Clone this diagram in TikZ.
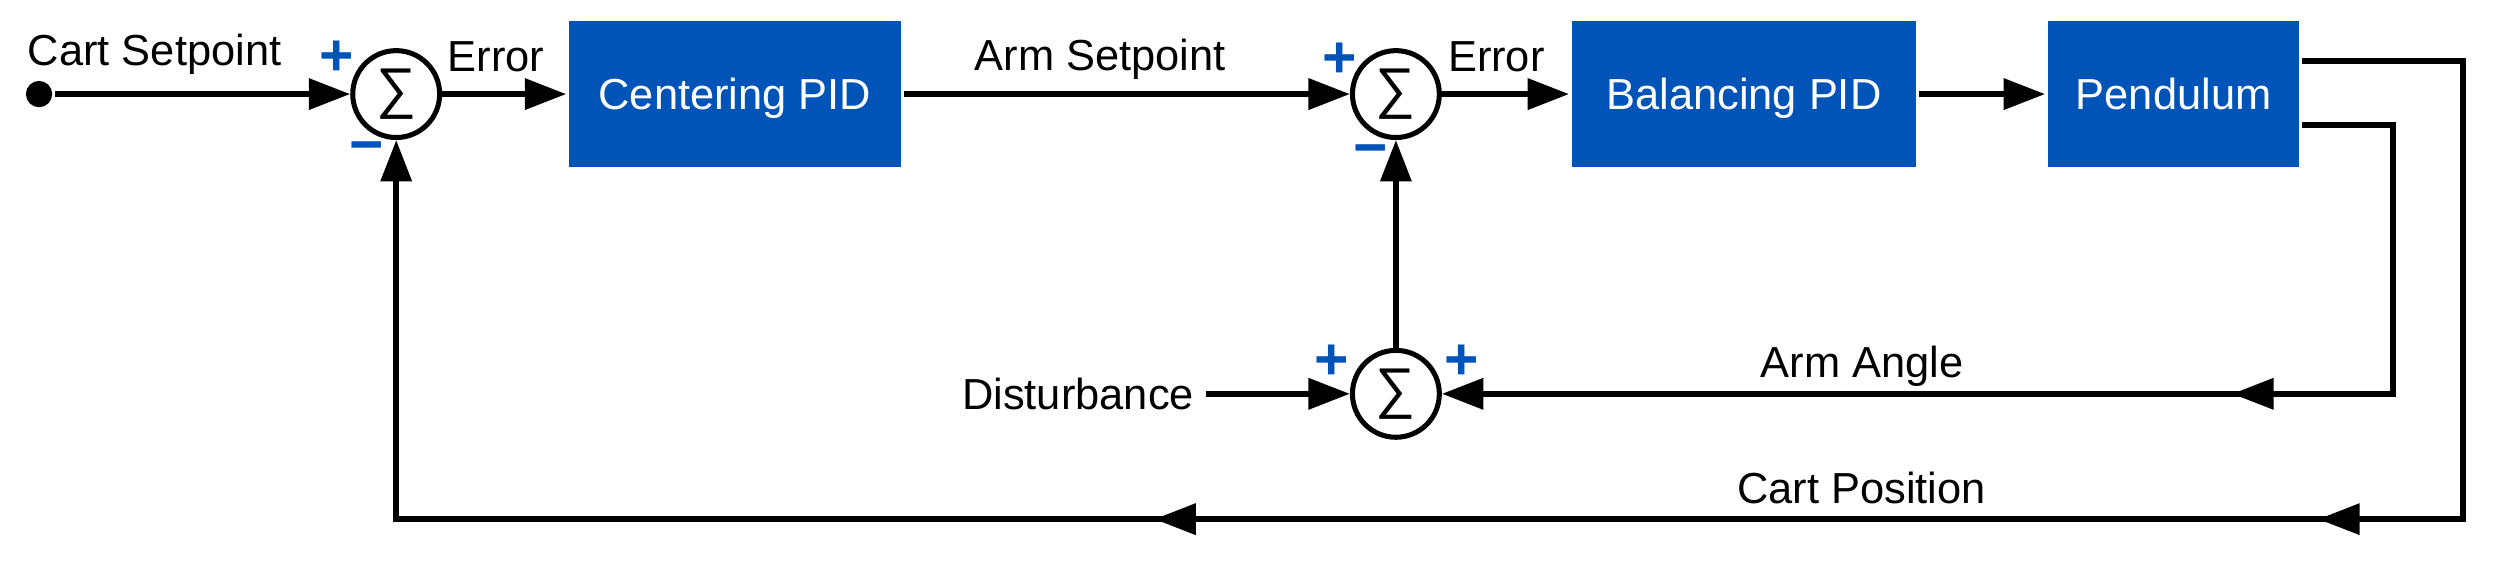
\documentclass[tikz,border=0pt]{standalone}
\usepackage{fontspec}
\setmainfont{Liberation Sans}
\usepackage{tikz}
\usetikzlibrary{arrows.meta,positioning}
\definecolor{ctrlblue}{RGB}{0,84,183}

\begin{document}
\begin{tikzpicture}[x=0.2mm,y=0.2mm,line width=2.1pt,
    >={Triangle[length=5.2mm,width=3.8mm]},
    block/.style={rectangle,fill=ctrlblue,text=white,minimum height=18.3mm,inner sep=0pt,
        text height=11pt,text depth=0pt,font=\fontsize{15.5}{18}\selectfont},
    summer/.style={circle,draw,line width=1.8pt,minimum size=10.9mm,inner sep=0pt,
        font=\fontsize{20}{22}\selectfont},
    lbl/.style={anchor=base,inner sep=0pt,font=\fontsize{15.5}{18}\selectfont},
    sign/.style={inner sep=0pt,text=ctrlblue,font=\bfseries\fontsize{21}{23}\selectfont}]
    \useasboundingbox (0,0) rectangle (1568,352);
    \node[circle,fill=black,minimum size=3.3mm,inner sep=0pt] (start) at (24.5,293) {};
    \node[summer] (sumA) at (248.5,293) {∑};
    \node[block,minimum width=41.6mm] (cpid) at (461,293) {Centering PID};
    \node[summer] (sumB) at (875.5,293) {∑};
    \node[block,minimum width=43.1mm] (bpid) at (1093.75,293) {Balancing PID};
    \node[block,minimum width=31.5mm] (pend) at (1363.3,293) {Pendulum};
    \node[summer] (sumC) at (875.5,105) {∑};
    \node[lbl,inner xsep=1.2mm,left=18mm of sumC] (dist) {Disturbance};
    \node[sign] (sumAp) at ([shift={(-37.5,22.5)}]sumA.center) {+};
    \node[sign] (sumAm) at ([shift={(-18.5,-37)}]sumA.center) {−};
    \node[sign] (sumBp) at ([shift={(-35,21.5)}]sumB.center) {+};
    \node[sign] (sumBm) at ([shift={(-15.7,-39)}]sumB.center) {−};
    \node[sign] (sumCl) at ([shift={(-40.5,19.5)}]sumC.center) {+};
    \node[sign] (sumCr) at ([shift={(41,19.5)}]sumC.center) {+};
    \node[lbl] (cartSet) at (97,311) {Cart Setpoint};
    \node[lbl] (errA) at (311,307.3) {Error};
    \node[lbl] (armSet) at (690,308) {Arm Setpoint};
    \node[lbl] (errB) at (938.5,307.3) {Error};
    \node[lbl] (armAng) at (1168,115.5) {Arm Angle};
    \node[lbl] (cartPos) at (1167.5,36.3) {Cart Position};
    \coordinate (cpRight) at (1545,26.4);
    \coordinate (cpMidA) at (1454,26.4);
    \coordinate (cpMidB) at (724,26.4);
    \coordinate (aaRight) at (1501,105);
    \coordinate (aaMid) at (1400,105);
    \draw[->] (start) -- (sumA.west);
    \draw[->] (sumA.east) -- (cpid.west);
    \draw[->] (cpid.east) -- (sumB.west);
    \draw[->] (sumB.east) -- (bpid.west);
    \draw[->] (bpid.east) -- (pend.west);
    \draw[->] (sumC.north) -- (sumB.south);
    \draw[->] (dist.east) -- (sumC.west);
    \draw[->] ([yshift=-3.9mm]pend.east) -| (aaRight) -- (sumC.east);
    \draw[->] (aaRight) -- (aaMid);
    \draw[->] ([yshift=4.1mm]pend.east) -| (cpRight) -| (sumA.south);
    \draw[->] (cpRight) -- (cpMidA);
    \draw[->] (cpRight) -- (cpMidB);
\end{tikzpicture}
\end{document}
